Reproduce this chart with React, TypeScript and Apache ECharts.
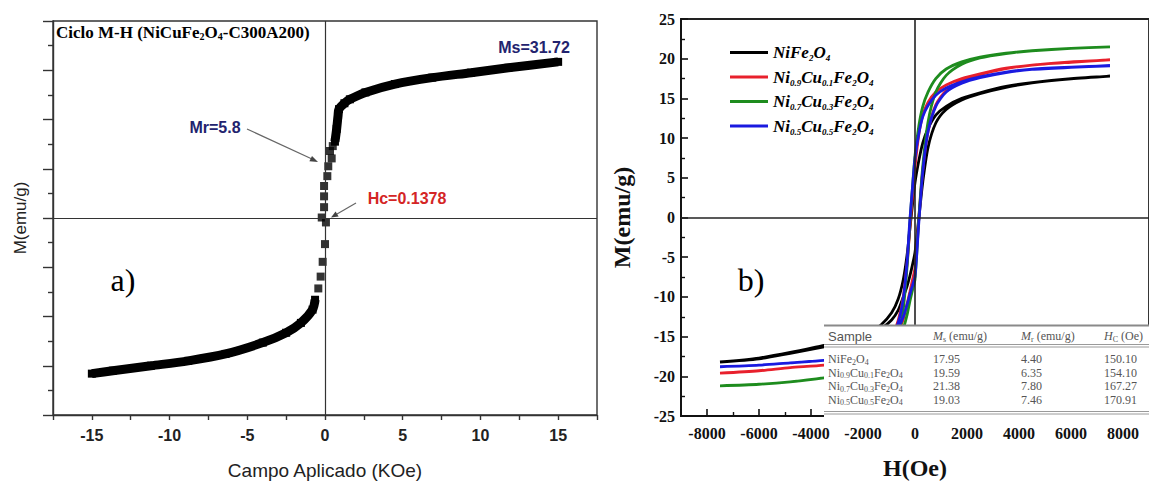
import React, { useEffect, useRef } from 'react';
import * as echarts from 'echarts';

// ---------- Panel a) : M-H cycle (H in kOe, M in emu/g) ----------
const lowTailH = [-15.0, -13.65, -11.2, -8.8, -6.4, -4.0, -2.5, -1.55, -0.8, -0.64];
const lowTailM = [-31.6, -31.0, -30.0, -29.0, -27.6, -25.3, -23.3, -21.3, -18.6, -16.6];
const highTailH = [0.64, 0.75, 0.84, 0.9, 1.25, 1.6, 2.6, 4.5, 6.9, 9.4, 11.8, 15.0];
const highTailM = [15.5, 18.1, 20.8, 22.1, 23.3, 24.1, 25.5, 27.2, 28.5, 29.5, 30.5, 31.7];
const coreH = [-0.43, -0.28, -0.15, 0.0, 0.06, -0.21, -0.06, -0.06, -0.06, 0.15, 0.21, 0.43, 0.32, 0.5];
const coreM = [-14.3, -11.9, -8.9, -5.3, -0.9, 0.1, 2.2, 4.4, 6.5, 8.5, 10.5, 12.1, 13.6, 14.6];

// ---------- Panel b) : hysteresis loops (H in Oe, M in emu/g) ----------
const descH = [7500, 6000, 4500, 3500, 2500, 1800, 1200, 800, 500, 300, 150, 0, -100, -200, -300, -450, -650, -900, -1300, -1800, -2500, -3500, -4800, -6000, -7500];
const ascH = [-7500, -6000, -4800, -3500, -2500, -1800, -1300, -900, -650, -450, -300, -200, -100, 0, 150, 300, 500, 800, 1200, 1800, 2500, 3500, 4500, 6000, 7500];

const blackDesc = [17.8, 17.5, 17.0, 16.5, 15.7, 15.0, 14.0, 12.9, 11.2, 9.4, 7.2, 4.4, 1.5, -1.5, -4.6, -7.8, -10.3, -12.0, -13.5, -14.6, -15.4, -16.1, -17.0, -17.7, -18.2];
const blackAsc = [-18.2, -17.8, -17.1, -16.3, -15.6, -14.9, -14.0, -12.9, -11.7, -10.0, -8.6, -7.4, -6.0, -4.4, 0.0, 4.5, 8.8, 11.9, 13.6, 14.8, 15.6, 16.4, 16.95, 17.45, 17.8];
const redDesc = [19.85, 19.6, 19.2, 18.8, 18.1, 17.5, 16.7, 15.8, 14.5, 12.9, 10.5, 6.35, 2.6, -1.5, -5.6, -10.0, -13.0, -14.9, -16.3, -17.3, -18.0, -18.6, -18.9, -19.3, -19.6];
const redAsc = [-19.6, -19.3, -18.9, -18.6, -18.0, -17.4, -16.6, -15.6, -14.4, -12.8, -10.8, -9.4, -7.9, -6.35, 0.0, 6.0, 10.8, 14.2, 16.0, 17.2, 18.0, 18.75, 19.2, 19.55, 19.85];
const greenDesc = [21.5, 21.3, 21.0, 20.7, 20.2, 19.6, 18.7, 17.5, 15.8, 14.0, 11.6, 7.8, 3.7, -0.8, -6.0, -11.5, -15.0, -16.9, -18.3, -19.2, -19.8, -20.2, -20.7, -21.0, -21.2];
const greenAsc = [-21.2, -21.0, -20.7, -20.2, -19.7, -19.1, -18.2, -17.0, -15.7, -14.0, -12.2, -10.6, -9.2, -7.8, 0.0, 6.5, 12.0, 15.8, 17.9, 19.3, 20.1, 20.65, 21.0, 21.3, 21.5];
const blueDesc = [19.1, 18.95, 18.7, 18.3, 17.7, 17.1, 16.3, 15.4, 14.1, 12.7, 10.6, 7.46, 3.6, -0.4, -5.4, -10.2, -13.3, -15.0, -16.2, -17.0, -17.6, -18.0, -18.3, -18.6, -18.8];
const blueAsc = [-18.8, -18.6, -18.3, -18.0, -17.5, -16.9, -16.1, -15.0, -13.9, -12.5, -10.9, -9.7, -8.6, -7.46, -0.5, 5.8, 10.8, 14.0, 15.8, 16.9, 17.6, 18.25, 18.65, 18.9, 19.1];

const sampleNames = ['NiFe2O4', 'Ni0.9Cu0.1Fe2O4', 'Ni0.7Cu0.3Fe2O4', 'Ni0.5Cu0.5Fe2O4'];
const sampleRich = [
  '{t|NiFe}{s|2}{t|O}{s|4}',
  '{t|Ni}{s|0.9}{t|Cu}{s|0.1}{t|Fe}{s|2}{t|O}{s|4}',
  '{t|Ni}{s|0.7}{t|Cu}{s|0.3}{t|Fe}{s|2}{t|O}{s|4}',
  '{t|Ni}{s|0.5}{t|Cu}{s|0.5}{t|Fe}{s|2}{t|O}{s|4}',
];
const sampleColors = ['#000000', '#e8202c', '#1e8c1e', '#1a1ae0'];

// table values
const tableMs = ['17.95', '19.59', '21.38', '19.03'];
const tableMr = ['4.40', '6.35', '7.80', '7.46'];
const tableHc = ['150.10', '154.10', '167.27', '170.91'];

const zip = (xs: number[], ys: number[]) => xs.map((x, i) => [x, ys[i]]);

const SERIF = '"Liberation Serif", "Times New Roman", serif';
const SANS = '"Liberation Sans", Arial, sans-serif';

export default function App() {
  const ref = useRef<HTMLDivElement>(null);

  useEffect(() => {
    const chart = echarts.init(ref.current!, null, { renderer: 'svg' });

    const loopSeries = [
      [blackDesc, blackAsc],
      [redDesc, redAsc],
      [greenDesc, greenAsc],
      [blueDesc, blueAsc],
    ].map(([d, a], i) => ({
      name: sampleNames[i],
      type: 'line',
      xAxisIndex: 1,
      yAxisIndex: 1,
      symbol: 'none',
      smooth: 0.25,
      data: [...zip(descH, d), ...zip(ascH, a)],
      lineStyle: { color: sampleColors[i], width: 2.8 },
      itemStyle: { color: sampleColors[i] },
      z: 3,
      ...(i === 0
        ? {
            markLine: {
              silent: true,
              symbol: ['none', 'none'],
              label: { show: false },
              lineStyle: { color: '#222', width: 1.6, type: 'solid' },
              data: [{ xAxis: 0 }, { yAxis: 0 }],
            },
          }
        : {}),
    }));

    const tabRich = {
      t: { fontFamily: SERIF, fontSize: 12, color: '#555', lineHeight: 14 },
      i: { fontFamily: SERIF, fontSize: 12, fontStyle: 'italic', color: '#555', lineHeight: 14 },
      s: { fontFamily: SERIF, fontSize: 8, color: '#555', lineHeight: 8, verticalAlign: 'bottom' },
    };
    const rowY = [359, 372.5, 386, 399.5];
    const tableTexts: any[] = [];
    const txt = (x: number, y: number, text: string, extra: any = {}) => ({
      type: 'text',
      x,
      y,
      z: 102,
      style: {
        text,
        fontFamily: SERIF,
        fontSize: 12,
        fill: '#555',
        align: 'left',
        verticalAlign: 'middle',
        rich: tabRich,
        ...extra,
      },
    });
    tableTexts.push(txt(828, 336, 'Sample', { fontFamily: SANS, fontSize: 13 }));
    tableTexts.push(txt(933, 336, '{i|M}{s|s}{t| (emu/g)}'));
    tableTexts.push(txt(1021, 336, '{i|M}{s|r}{t| (emu/g)}'));
    tableTexts.push(txt(1104, 336, '{i|H}{s|C}{t| (Oe)}'));
    sampleRich.forEach((r, k) => {
      tableTexts.push(txt(828, rowY[k], r));
      tableTexts.push(txt(933, rowY[k], tableMs[k]));
      tableTexts.push(txt(1021, rowY[k], tableMr[k]));
      tableTexts.push(txt(1104, rowY[k], tableHc[k]));
    });
    const hline = (y: number, w: number, c: string) => ({
      type: 'line',
      z: 101,
      shape: { x1: 824, y1: y, x2: 1160, y2: y },
      style: { stroke: c, lineWidth: w },
    });

    const option: any = {
      animation: false,
      backgroundColor: '#ffffff',
      grid: [
        { left: 53, top: 21, width: 544, height: 399, show: true, borderColor: '#333', borderWidth: 1.4, containLabel: false },
        { left: 681, top: 19, width: 480, height: 397, show: true, borderColor: '#222', borderWidth: 1.8, containLabel: false },
      ],
      xAxis: [
        {
          type: 'value',
          gridIndex: 0,
          min: -17.5,
          max: 17.5,
          interval: 2.5,
          splitLine: { show: false },
          axisLine: { onZero: false, lineStyle: { color: '#333', width: 1.4 } },
          axisTick: { inside: false, length: 5, lineStyle: { color: '#333', width: 1.4 } },
          axisLabel: {
            margin: 12,
            fontFamily: SANS,
            fontWeight: 'bold',
            fontSize: 16,
            color: '#222',
            formatter: (v: number) => (Math.abs(v % 5) < 1e-9 ? String(v) : ''),
          },
          name: 'Campo Aplicado (KOe)',
          nameLocation: 'middle',
          nameGap: 46,
          nameTextStyle: { fontFamily: SANS, fontSize: 19, color: '#222' },
        },
        {
          type: 'value',
          gridIndex: 1,
          min: -9000,
          max: 9000,
          splitNumber: 9,
          splitLine: { show: false },
          axisLine: { onZero: false, lineStyle: { color: '#111', width: 1.8 } },
          axisTick: { inside: true, length: 7, lineStyle: { color: '#111', width: 1.6 } },
          minorTick: { show: true, splitNumber: 2, length: 4, lineStyle: { color: '#111', width: 1.4 } },
          axisLabel: {
            margin: 9,
            fontFamily: SERIF,
            fontWeight: 'bold',
            fontSize: 16,
            color: '#111',
            showMinLabel: false,
            showMaxLabel: false,
            formatter: (v: number) => String(v),
          },
          name: 'H(Oe)',
          nameLocation: 'middle',
          nameGap: 40,
          nameTextStyle: { fontFamily: SERIF, fontWeight: 'bold', fontSize: 24, color: '#111' },
        },
      ],
      yAxis: [
        {
          type: 'value',
          gridIndex: 0,
          min: -40,
          max: 40,
          interval: 10,
          splitLine: { show: false },
          axisLine: { onZero: false, lineStyle: { color: '#333', width: 1.4 } },
          axisTick: { inside: false, length: 10, lineStyle: { color: '#333', width: 1.4 } },
          minorTick: { show: true, splitNumber: 2, length: 5, lineStyle: { color: '#333', width: 1.4 } },
          axisLabel: { show: false },
          name: 'M(emu/g)',
          nameLocation: 'middle',
          nameGap: 24,
          nameTextStyle: { fontFamily: SANS, fontSize: 17, color: '#222' },
        },
        {
          type: 'value',
          gridIndex: 1,
          min: -25,
          max: 25,
          interval: 5,
          splitLine: { show: false },
          axisLine: { onZero: false, lineStyle: { color: '#111', width: 1.8 } },
          axisTick: { inside: true, length: 7, lineStyle: { color: '#111', width: 1.6 } },
          minorTick: { show: true, splitNumber: 2, length: 4, lineStyle: { color: '#111', width: 1.4 } },
          axisLabel: { margin: 6, fontFamily: SERIF, fontWeight: 'bold', fontSize: 16, color: '#111' },
          name: 'M(emu/g)',
          nameLocation: 'middle',
          nameGap: 47,
          nameTextStyle: { fontFamily: SERIF, fontWeight: 'bold', fontSize: 24, color: '#111' },
        },
      ],
      legend: {
        data: sampleNames,
        orient: 'vertical',
        left: 725,
        top: 39,
        itemWidth: 38,
        itemHeight: 3,
        itemGap: 6,
        icon: 'rect',
        formatter: (name: string) => sampleRich[sampleNames.indexOf(name)],
        textStyle: {
          color: '#000',
          rich: {
            t: { fontFamily: SERIF, fontSize: 17, fontWeight: 'bold', fontStyle: 'italic', color: '#000', lineHeight: 20 },
            s: { fontFamily: SERIF, fontSize: 9, fontWeight: 'bold', fontStyle: 'italic', color: '#000', lineHeight: 10, verticalAlign: 'bottom' },
          },
        },
      },
      series: [
        {
          name: 'lowTail',
          type: 'line',
          xAxisIndex: 0,
          yAxisIndex: 0,
          data: zip(lowTailH, lowTailM),
          smooth: 0.3,
          symbol: 'rect',
          symbolSize: 8,
          itemStyle: { color: '#000' },
          lineStyle: { color: '#000', width: 9 },
          markLine: {
            silent: true,
            symbol: ['none', 'none'],
            label: { show: false },
            lineStyle: { color: '#333', width: 1.2, type: 'solid' },
            data: [{ xAxis: 0 }, { yAxis: 0 }],
          },
        },
        {
          name: 'highTail',
          type: 'line',
          xAxisIndex: 0,
          yAxisIndex: 0,
          data: zip(highTailH, highTailM),
          smooth: 0.3,
          symbol: 'rect',
          symbolSize: 8,
          itemStyle: { color: '#000' },
          lineStyle: { color: '#000', width: 9 },
        },
        {
          name: 'core',
          type: 'scatter',
          xAxisIndex: 0,
          yAxisIndex: 0,
          data: zip(coreH, coreM),
          symbol: 'rect',
          symbolSize: 8,
          itemStyle: { color: '#000' },
        },
        ...loopSeries,
      ],
      graphic: [
        {
          type: 'text',
          x: 56,
          y: 32,
          z: 50,
          style: {
            text: '{t|Ciclo M-H (NiCuFe}{s|2}{t|O}{s|4}{t|-C300A200)}',
            align: 'left',
            verticalAlign: 'middle',
            rich: {
              t: { fontFamily: SERIF, fontWeight: 'bold', fontSize: 17, color: '#111', lineHeight: 18 },
              s: { fontFamily: SERIF, fontWeight: 'bold', fontSize: 10, color: '#111', lineHeight: 10, verticalAlign: 'bottom' },
            },
          },
        },
        { type: 'text', x: 534, y: 47, z: 50, style: { text: 'Ms=31.72', font: `bold 16px ${SANS}`, fill: '#23236e', align: 'center', verticalAlign: 'middle' } },
        { type: 'text', x: 215, y: 127, z: 50, style: { text: 'Mr=5.8', font: `bold 16px ${SANS}`, fill: '#23236e', align: 'center', verticalAlign: 'middle' } },
        { type: 'text', x: 407, y: 198, z: 50, style: { text: 'Hc=0.1378', font: `bold 16px ${SANS}`, fill: '#d42525', align: 'center', verticalAlign: 'middle' } },
        { type: 'line', z: 50, shape: { x1: 247, y1: 129, x2: 312, y2: 159 }, style: { stroke: '#666', lineWidth: 1.2 } },
        { type: 'polygon', z: 50, shape: { points: [[318, 162], [309.4, 161.3], [312.0, 155.9]] }, style: { fill: '#444' } },
        { type: 'line', z: 50, shape: { x1: 356, y1: 203, x2: 337, y2: 214 }, style: { stroke: '#666', lineWidth: 1.2 } },
        { type: 'polygon', z: 50, shape: { points: [[331, 217.5], [335.6, 211.4], [338.6, 216.6]] }, style: { fill: '#444' } },
        { type: 'text', x: 123, y: 280, z: 50, style: { text: 'a)', font: `32px ${SERIF}`, fill: '#000', align: 'center', verticalAlign: 'middle' } },
        { type: 'text', x: 751, y: 280, z: 50, style: { text: 'b)', font: `32px ${SERIF}`, fill: '#000', align: 'center', verticalAlign: 'middle' } },
        // table overlay
        { type: 'rect', z: 100, shape: { x: 824, y: 325, width: 340, height: 93 }, style: { fill: '#ffffff' } },
        hline(325.5, 2, '#8a8a8a'),
        hline(344.5, 1, '#9a9a9a'),
        hline(347, 1, '#9a9a9a'),
        hline(411.5, 1, '#9a9a9a'),
        hline(414, 1, '#9a9a9a'),
        ...tableTexts,
      ],
    };

    chart.setOption(option);
    return () => chart.dispose();
  }, []);

  return <div ref={ref} style={{ position: 'absolute', left: 0, top: 0, width: 1149, height: 485 }} />;
}
